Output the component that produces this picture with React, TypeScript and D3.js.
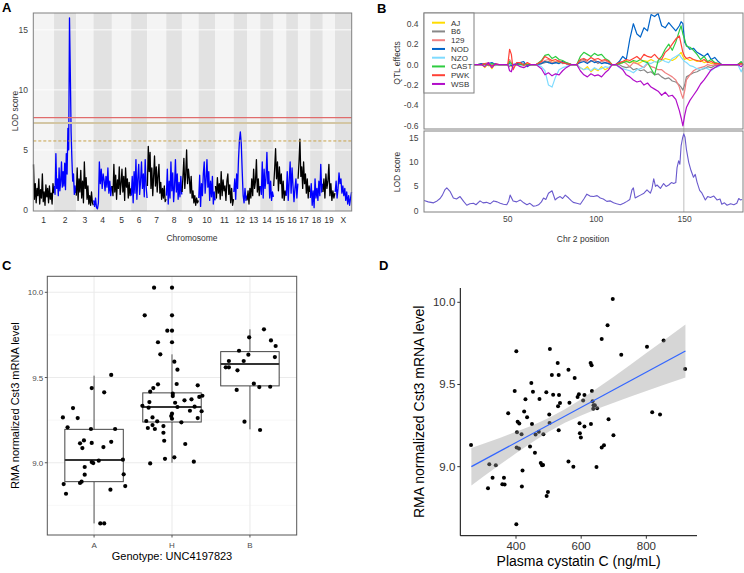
import React from 'react';
import * as d3 from 'd3';

const FONT = '"Liberation Sans", Arial, sans-serif';

// ---------- Panel A: genome scan ----------
const chrNames = ['1', '2', '3', '4', '5', '6', '7', '8', '9', '10', '11', '12', '13', '14', '15', '16', '17', '18', '19', 'X'];
const chrLen = [97, 103, 81, 86, 90, 75, 89, 73, 78, 78, 86, 62, 62, 62, 59, 55, 57, 59, 57, 78];
const lodTicksA = [0, 5, 10, 15];
const thresholds = [7.69, 7.25, 5.75];

const lodChr = [
  [3.8, 0.9, 2.2, 0.6, 1.8, 1.2, 2.6, 0.5, 1.7, 1.0, 3.0, 0.7, 1.5, 0.4, 2.1, 1.1, 1.8, 0.6, 2.0, 0.9, 1.4, 0.5, 2.2, 1.4],
  [2.0, 1.3, 4.7, 1.8, 2.6, 1.2, 3.5, 1.6, 2.4, 4.0, 1.9, 3.2, 2.0, 3.9, 1.7, 4.7, 3.0, 6.8, 5.0, 16.0, 11.5, 6.5, 4.2, 2.4, 3.0, 1.3, 2.0, 1.4],
  [1.2, 3.5, 0.8, 2.6, 1.5, 3.3, 1.0, 2.4, 0.6, 4.0, 1.8, 2.7, 0.9, 2.0, 0.5, 1.2, 0.4, 1.5, 0.6, 0.4],
  [0.8, 0.3, 1.0, 0.2, 0.1, 0.6, 4.0, 2.2, 3.4, 1.8, 3.0, 2.5, 1.6, 2.8, 1.9, 3.5, 1.4, 2.4, 1.2, 2.0],
  [2.0, 1.2, 3.8, 1.5, 2.9, 0.9, 2.5, 1.8, 3.6, 1.3, 2.2, 3.4, 1.5, 2.8, 0.8, 3.5, 1.9, 2.6, 1.0, 2.3, 1.2, 1.8],
  [1.2, 2.8, 0.6, 3.2, 1.4, 4.2, 0.9, 2.6, 3.8, 1.3, 2.4, 4.0, 1.8, 3.0, 1.1, 4.2, 2.0, 1.0],
  [2.0, 5.3, 3.2, 4.8, 1.8, 3.5, 1.2, 2.8, 4.5, 2.0, 3.6, 1.5, 2.9, 3.8, 1.4, 2.3, 0.9, 1.8, 1.0, 2.0, 0.7, 0.9],
  [1.2, 3.4, 0.5, 2.4, 1.0, 4.0, 1.6, 3.1, 0.7, 2.0, 4.2, 1.5, 3.0, 0.9, 2.3, 1.1, 2.8, 1.3],
  [1.5, 2.8, 4.3, 1.8, 3.0, 5.0, 2.2, 3.4, 2.6, 1.4, 2.8, 1.0, 1.6, 0.6, 1.2, 0.4, 1.0, 0.6, 0.8],
  [1.0, 2.9, 0.3, 2.2, 1.2, 3.0, 4.0, 1.4, 2.5, 4.2, 1.9, 3.2, 0.8, 2.4, 1.1, 2.8, 0.5, 1.5, 0.8],
  [2.0, 1.0, 2.7, 1.4, 2.2, 0.9, 3.2, 1.2, 2.5, 1.6, 2.0, 0.8, 2.4, 3.0, 1.3, 2.1, 0.6, 1.8, 0.4, 0.9],
  [1.5, 2.6, 0.9, 3.0, 1.8, 4.2, 5.8, 6.5, 5.5, 3.2, 1.2, 0.6, 1.8, 0.8, 1.2],
  [0.8, 1.6, 0.5, 1.8, 1.0, 2.6, 1.2, 3.4, 1.8, 2.4, 4.2, 1.5, 2.6, 1.2, 2.0],
  [2.0, 1.3, 4.0, 1.0, 3.4, 1.8, 2.6, 4.8, 2.2, 3.2, 1.0, 2.4, 0.8, 1.5, 1.1],
  [2.0, 3.4, 5.1, 2.6, 4.0, 1.6, 3.6, 2.2, 3.0, 1.0, 2.4, 0.8, 1.6, 1.2],
  [1.2, 3.2, 0.8, 2.4, 4.0, 1.4, 3.5, 2.0, 0.7, 1.8, 2.6, 1.0, 2.2],
  [2.6, 4.0, 5.9, 2.8, 3.6, 1.8, 4.0, 2.2, 3.0, 1.4, 2.6, 1.0, 2.0, 1.5],
  [1.0, 2.2, 0.4, 1.6, 0.2, 2.6, 1.0, 1.8, 0.8, 2.4, 1.2, 3.8, 1.5, 2.2],
  [1.5, 2.6, 1.0, 3.0, 1.8, 2.4, 3.8, 1.2, 2.2, 0.8, 1.6, 1.0, 1.4],
  [1.5, 2.4, 1.0, 1.8, 3.1, 2.2, 2.6, 1.4, 2.0, 1.2, 1.8, 0.8, 1.5, 0.5, 1.2, 0.4, 1.0, 1.5],
];

// ---------- Panel B: chr 2 effects + LOD ----------
const founders = ['AJ', 'B6', '129', 'NOD', 'NZO', 'CAST', 'PWK', 'WSB'];
const founderColors = ['#FFDC00', '#888888', '#F08080', '#0064C9', '#7FDBFF', '#2ECC40', '#FF4136', '#B10DC9'];
const effTicks = [0.4, 0.2, 0.0, -0.2, -0.4, -0.6];
const lodTicksB = [0, 5, 10, 15];
const posTicksB = [50, 100, 150];
const peakPos = 149.5;

const effPos = [30, 33, 35, 37, 39, 41, 43, 45, 48, 50, 51, 52, 53, 55, 57, 59, 61, 63, 66, 69,
  71, 73, 75, 77, 79, 81, 83, 86, 89, 91, 93, 95, 97, 99, 101, 103, 105, 107, 109, 111,
  113, 115, 117, 119, 121, 123, 125, 127, 129, 131, 133, 135, 137, 139, 141, 143, 145, 147, 148, 149,
  150, 151, 153, 155, 157, 159, 161, 163, 165, 167, 169, 171, 174, 177, 180, 182, 183];

const effAJ = [0, 0, 0.01, -0.03, 0.01, -0.04, 0.01, 0, 0, 0, 0.02, -0.02, 0, 0, 0.01, -0.01, 0.01, 0, 0, 0.02,
  0.03, 0.02, 0.04, 0.03, 0.02, 0.03, 0.01, 0, 0, -0.03, -0.05, -0.02, -0.07, -0.04, -0.06, -0.02, -0.05, -0.03, 0, 0,
  0.01, 0.02, 0.04, 0.02, 0.03, 0.01, 0.02, 0.04, 0.03, 0.05, 0.03, 0.02, 0.04, 0.06, 0.05, 0.04, 0.06, 0.1, 0.12, 0.08,
  0.05, 0.06, 0.04, 0.05, 0.03, 0.04, 0.02, 0.03, 0.01, 0.02, 0.01, 0, 0, 0, 0, 0.01, 0];
const effB6 = [0, 0, 0, 0.01, -0.01, 0, 0, 0, 0, 0, -0.02, 0.01, 0, 0, 0, 0.01, 0, 0, 0, 0.01,
  0.02, 0.03, 0.01, 0.02, 0.03, 0.01, 0.02, 0, 0, 0.04, 0.05, 0.02, 0.03, 0.04, 0.01, 0.03, 0.02, 0.01, 0, 0,
  0, -0.02, -0.03, -0.02, -0.05, -0.04, -0.06, -0.05, -0.08, -0.07, -0.1, -0.09, -0.12, -0.14, -0.13, -0.16, -0.17, -0.2, -0.22, -0.25,
  -0.2, -0.12, -0.1, -0.08, -0.07, -0.05, -0.04, -0.02, -0.03, -0.01, -0.01, 0, 0, 0, 0, 0.01, 0];
const eff129 = [0, 0, 0, 0.01, 0.02, -0.01, 0, 0, 0, 0, 0.05, 0.02, 0, 0, 0.01, 0, 0, 0, 0, 0.02,
  0.04, 0.05, 0.02, 0.03, 0.04, 0.02, 0.01, 0, 0, 0.03, 0.04, 0.02, 0.03, 0.05, 0.02, 0.03, 0.04, 0.02, 0, 0,
  0.02, 0.03, 0.01, -0.02, 0.02, 0.01, -0.01, -0.03, 0.01, -0.02, -0.03, -0.05, -0.05, -0.08, -0.1, -0.12, -0.15, -0.22, -0.28, -0.33,
  -0.26, -0.15, -0.1, -0.06, -0.04, -0.03, -0.02, 0, -0.01, 0, 0, 0, 0, 0, 0, 0.02, 0];
const effNOD = [0, 0, 0.01, 0, 0.01, 0.02, 0, 0, 0, 0, 0.01, -0.01, 0, 0.01, 0.02, 0.03, -0.02, 0, 0, 0.01,
  0.03, 0.02, 0.01, 0.02, 0.01, 0.03, 0.01, 0, 0, 0.02, 0.03, 0.01, 0.04, 0.02, 0.03, 0.01, 0.02, 0.01, 0, 0,
  0.03, 0.08, 0.05, 0.25, 0.4, 0.3, 0.27, 0.36, 0.33, 0.49, 0.47, 0.5, 0.38, 0.36, 0.41, 0.37, 0.33, 0.38, 0.42, 0.4,
  0.22, 0.19, 0.15, 0.16, 0.12, 0.1, 0.08, 0.11, 0.05, 0.07, 0.03, 0, 0, 0, 0, 0.02, 0];
const effNZO = [0, 0, 0, 0, 0.01, 0, -0.01, 0, 0, 0, 0, 0.01, 0, 0, 0, -0.01, 0, 0, 0, -0.02,
  -0.06, -0.2, -0.22, -0.12, -0.05, -0.03, -0.02, 0, 0, -0.03, -0.05, -0.04, -0.06, -0.03, -0.05, -0.04, -0.02, -0.03, 0, 0,
  -0.03, -0.04, -0.05, -0.06, -0.08, -0.05, -0.04, -0.02, 0.02, 0.01, 0.03, 0.02, 0.05, 0.03, 0.02, 0.06, 0.08, 0.1, 0.07, 0.05,
  0.03, 0.02, -0.01, -0.02, -0.04, -0.05, -0.03, -0.04, -0.06, -0.03, -0.02, 0, 0, 0, 0, -0.07, -0.03];
const effCAST = [0, 0, 0, 0, 0, 0.01, 0, 0, 0, 0, 0.03, 0.01, 0, 0, 0, 0, 0, 0, 0, 0.04,
  0.09, 0.1, 0.06, 0.08, 0.05, 0.04, 0.02, 0, 0, 0.08, 0.12, 0.1, 0.08, 0.11, 0.09, 0.1, 0.06, 0.04, 0, 0,
  0.01, 0.02, 0.03, 0.02, 0.04, 0.03, 0.05, 0.03, 0.02, -0.04, -0.1, 0.04, 0.08, 0.15, 0.2, 0.14, 0.22, 0.33, 0.38, 0.3,
  0.25, 0.18, 0.17, 0.14, 0.1, 0.05, 0.08, 0.03, 0.05, 0.02, 0.01, 0, 0, 0, 0, 0.03, 0];
const effPWK = [0, 0, 0, 0.01, 0, -0.01, 0, 0, 0, 0, 0.15, 0.1, -0.05, 0.02, 0.02, -0.01, 0.02, 0, 0, 0.03,
  0.08, 0.06, 0.04, 0.05, 0.03, 0.02, 0.01, 0, 0, 0.05, 0.06, 0.04, 0.07, 0.05, 0.06, 0.04, 0.05, 0.03, 0, 0,
  0.02, 0.03, 0.05, 0.04, 0.06, 0.08, 0.05, 0.1, 0.08, 0.07, 0.1, 0.06, 0.05, 0.12, 0.15, 0.2, 0.25, 0.28, 0.2, 0.12,
  0.08, 0.06, 0.07, 0.05, 0.04, 0.03, 0.05, 0.02, 0.03, 0.01, 0.01, 0, 0, 0, 0, 0.01, 0];
const effWSB = [0, 0, 0, -0.02, 0.02, -0.03, 0.01, 0, 0, 0, -0.06, -0.07, 0, 0, -0.02, -0.03, -0.01, 0, 0, -0.04,
  -0.1, -0.08, -0.11, -0.09, -0.1, -0.06, -0.03, 0, 0, -0.06, -0.1, -0.12, -0.09, -0.11, -0.1, -0.12, -0.08, -0.05, 0, 0,
  -0.02, -0.05, -0.1, -0.12, -0.15, -0.17, -0.16, -0.2, -0.18, -0.22, -0.24, -0.26, -0.3, -0.27, -0.31, -0.3, -0.34, -0.45, -0.52, -0.6,
  -0.5, -0.42, -0.35, -0.3, -0.25, -0.19, -0.15, -0.1, -0.05, -0.03, -0.01, 0, 0, 0, 0, -0.02, 0];
const effects = [effAJ, effB6, eff129, effNOD, effNZO, effCAST, effPWK, effWSB];

const chr2Pos = [2.6, 5, 8, 10, 11.7, 13, 14.5, 15.5, 17.3, 19.2, 21, 23, 25, 26.8, 28.5, 30.6, 32, 34.3, 36, 38,
  40, 42, 44, 45.7, 47.5, 49.4, 50.5, 51.3, 53, 55, 57, 59, 60.8, 62.5, 64.5, 66, 67.4, 69, 70.2, 71.5,
  73, 75, 76.8, 78, 79.6, 81, 82.5, 84.4, 86, 87, 89, 91, 93, 94.7, 96.5, 98.5, 100.5, 102.3, 104, 106,
  108, 109.8, 111.5, 113.6, 115.5, 117.4, 119, 120.2, 121, 122, 123.5, 125, 127, 128.7, 130.6, 131.5, 132.5, 133.5, 134.4, 136.3,
  138.1, 139.5, 141, 142.5, 143.8, 145, 145.7, 146.6, 147.3, 148, 148.8, 149.5, 150.2, 151, 152.3, 153.6, 155, 156, 157, 158.5,
  159.8, 161.7, 163, 164.6, 166.5, 168.3, 170, 171, 172.5, 174, 176, 177.8, 179.5, 180.6, 181.5, 182.5];
const chr2Lod = [2.1, 1.8, 1.6, 2.0, 2.5, 3.2, 4.35, 4.7, 4.0, 2.6, 2.4, 2.9, 1.9, 1.1, 1.4, 1.5, 1.2, 2.0, 1.6, 1.7,
  1.4, 2.0, 1.8, 1.5, 1.3, 1.2, 2.0, 3.2, 2.0, 1.8, 2.2, 1.6, 1.2, 1.5, 0.9, 1.0, 1.2, 1.8, 2.6, 2.3,
  3.6, 4.1, 2.2, 2.6, 2.9, 2.5, 3.2, 2.6, 2.0, 1.7, 1.5, 1.3, 2.4, 3.4, 3.0, 2.9, 3.1, 2.6, 2.4, 1.9,
  2.0, 1.6, 1.4, 1.2, 1.5, 1.9, 2.3, 4.3, 4.7, 2.6, 2.9, 3.2, 3.6, 4.3, 3.6, 4.5, 6.6, 5.0, 5.3, 4.6,
  5.6, 5.0, 5.3, 5.8, 5.6, 5.8, 8.9, 10.3, 9.6, 13.4, 15.0, 15.9, 15.2, 12.7, 10.0, 8.3, 6.9, 7.5, 5.9, 4.2,
  3.6, 2.2, 2.9, 2.7, 3.0, 2.2, 2.4, 1.3, 1.6, 1.1, 1.4, 1.2, 1.5, 2.5, 2.2, 2.3];

// ---------- Panel C: boxplot by genotype ----------
const genotypes = ['A', 'H', 'B'];
const boxLow = [8.644, 9.0, 9.196];
const boxQ1 = [8.889, 9.239, 9.451];
const boxMed = [9.016, 9.327, 9.58];
const boxQ3 = [9.196, 9.41, 9.652];
const boxHigh = [9.511, 9.636, 9.783];
const ticksC = [9.0, 9.5, 10.0];
const minorC = [8.75, 9.25, 9.75];

// [jitter (category units), expression]
const ptsA = [[-0.4, 9.266], [-0.34, 9.208], [-0.27, 9.321], [-0.21, 9.262], [-0.39, 8.875], [-0.36, 8.818], [-0.18, 9.114],
  [-0.15, 9.086], [-0.13, 9.131], [-0.12, 8.975], [-0.12, 8.93], [-0.18, 8.881], [-0.16, 8.889], [-0.04, 9.198], [-0.03, 9.116],
  [-0.03, 9.004], [-0.01, 8.998], [0.06, 9.012], [-0.03, 9.438], [0.13, 9.413], [0.12, 9.092], [0.22, 9.515], [0.22, 9.123],
  [0.21, 8.842], [0.27, 9.198], [0.37, 9.018], [0.38, 8.932], [0.4, 8.863], [0.08, 8.644], [0.13, 8.644]];
const ptsH = [[-0.23, 10.027], [0.0, 10.027], [-0.35, 9.865], [0.0, 9.865], [-0.06, 9.775], [0.0, 9.775], [-0.18, 9.707], [0.0, 9.707],
  [-0.15, 9.636], [0.03, 9.593], [0.07, 9.546], [-0.18, 9.46], [-0.24, 9.438], [-0.28, 9.417], [0.06, 9.462], [0.33, 9.454],
  [0.01, 9.405], [0.01, 9.391], [0.39, 9.393], [0.35, 9.386], [0.16, 9.366], [0.25, 9.372], [-0.29, 9.356], [0.04, 9.352],
  [-0.38, 9.334], [-0.3, 9.323], [0.07, 9.327], [0.29, 9.329], [0.23, 9.305], [0.38, 9.302], [0.0, 9.288], [-0.01, 9.274],
  [0.33, 9.262], [-0.25, 9.266], [0.0, 9.258], [-0.33, 9.245], [-0.19, 9.243], [0.12, 9.237], [-0.25, 9.221], [-0.11, 9.215],
  [-0.31, 9.204], [-0.22, 9.198], [-0.11, 9.176], [-0.1, 9.129], [0.17, 9.11], [-0.09, 9.023], [0.03, 9.032], [0.28, 9.006],
  [-0.28, 8.996]];
const ptsB = [[0.18, 9.783], [-0.01, 9.736], [0.27, 9.718], [0.33, 9.685], [-0.14, 9.657], [-0.02, 9.634], [0.32, 9.62],
  [-0.27, 9.597], [-0.08, 9.597], [-0.31, 9.56], [-0.27, 9.56], [-0.16, 9.542], [0.05, 9.464], [0.12, 9.444], [0.26, 9.446],
  [-0.17, 9.427], [-0.07, 9.241], [0.13, 9.192]];
const ptsC = [ptsA, ptsH, ptsB];

// ---------- Panel D: scatter vs plasma cystatin C ----------
const cystatin = [262, 318, 338, 314, 328, 363, 358, 365, 376, 401, 396, 403, 417, 405, 410, 402, 409, 420, 418, 401,
  425, 429, 434, 443, 447, 452, 449, 458, 460, 472, 470, 484, 476, 480, 483, 493, 502, 504, 510, 503,
  514, 498, 494, 528, 531, 532, 535, 529, 531, 561, 564, 561, 576, 580, 589, 593, 595, 596, 599, 610,
  610, 606, 629, 632, 633, 635, 638, 630, 642, 649, 637, 647, 663, 663, 670, 681, 684, 699, 697, 723,
  802, 818, 842, 853, 919];
const cst3 = [9.132, 9.014, 9.008, 8.868, 8.933, 8.933, 8.893, 8.891, 9.325, 9.702, 9.46, 9.209, 9.197, 9.274, 9.262, 9.116, 9.11, 8.976, 8.88, 8.649,
  9.335, 9.41, 9.3, 9.122, 9.509, 9.456, 9.26, 9.085, 9.195, 9.412, 9.213, 9.197, 9.023, 9.008, 9.01, 9.452, 9.318, 9.716, 9.558, 9.266,
  9.438, 8.846, 8.822, 9.631, 9.558, 9.436, 9.387, 9.367, 9.221, 9.59, 9.389, 9.032, 9.0, 9.539, 9.424, 9.44, 9.264, 9.203, 9.177, 9.436,
  9.244, 9.402, 9.631, 9.617, 9.461, 9.398, 9.373, 9.26, 9.373, 9.355, 9.353, 8.998, 9.777, 9.116, 9.13, 9.86, 9.288, 9.191, 10.02, 9.681,
  9.73, 9.331, 9.318, 9.768, 9.594];
const fitX = [263, 920];
const fitY = [9.0, 9.704];
const bandX = [263, 300, 350, 400, 450, 500, 550, 600, 650, 700, 750, 800, 850, 920];
const bandLo = [8.886, 8.94, 9.011, 9.081, 9.149, 9.212, 9.267, 9.312, 9.352, 9.389, 9.425, 9.461, 9.495, 9.543];
const bandHi = [9.114, 9.14, 9.175, 9.213, 9.251, 9.296, 9.349, 9.41, 9.478, 9.547, 9.619, 9.691, 9.763, 9.865];
const ticksDX = [400, 600, 800];
const ticksDY = [9.0, 9.5, 10.0];

function PanelA() {
  const total = d3.sum(chrLen);
  const offsets = chrLen.map((_, i) => d3.sum(chrLen.slice(0, i)));
  const x = d3.scaleLinear().domain([0, total]).range([33.3, 351.7]);
  const y = d3.scaleLinear().domain([-0.08, 16.4]).range([211, 13]);
  const line = d3.line<number[]>().x(d => x(d[0])).y(d => y(d[1]));
  const threshStyle = [
    { stroke: '#e06c6c', w: 1.3, dash: undefined },
    { stroke: '#d3c6a4', w: 2, dash: undefined },
    { stroke: '#c8a24a', w: 1, dash: '3,2' },
  ];
  return (
    <g>
      {chrLen.map((len, i) => (
        <rect key={i} x={x(offsets[i])} y={13} width={x(offsets[i] + len) - x(offsets[i])} height={198}
          fill={i % 2 ? '#e2e2e2' : '#f4f4f4'} />
      ))}
      {lodTicksA.slice(1).map(v => (
        <line key={v} x1={x(0)} x2={x(total)} y1={y(v)} y2={y(v)} stroke="#fdfdfd" strokeWidth={1} />
      ))}
      {lodChr.map((vals, i) => {
        const pts = vals.map((v, j) => [offsets[i] + chrLen[i] * (0.01 + 0.98 * j / (vals.length - 1)), v]);
        return <path key={i} d={line(pts) || ''} fill="none" stroke={i % 2 ? '#0000ff' : '#000'} strokeWidth={1.3} strokeLinejoin="round" />;
      })}
      {thresholds.map((t, i) => (
        <line key={t} x1={x(0)} x2={x(total)} y1={y(t)} y2={y(t)} stroke={threshStyle[i].stroke}
          strokeWidth={threshStyle[i].w} strokeDasharray={threshStyle[i].dash} />
      ))}
      <rect x={33.3} y={13} width={318.4} height={198} fill="none" stroke="#808080" strokeWidth={1} />
      {lodTicksA.map(v => (
        <text key={v} x={28} y={y(v) + 3} fontSize={8.5} fill="#444" textAnchor="end">{v}</text>
      ))}
      {chrNames.map((c, i) => (
        <text key={c} x={x(offsets[i] + chrLen[i] / 2)} y={223} fontSize={8.5} fill="#333" textAnchor="middle">{c}</text>
      ))}
      <text x={192} y={241} fontSize={8.5} fill="#333" textAnchor="middle">Chromosome</text>
      <text transform="translate(18,111) rotate(-90)" fontSize={8.5} fill="#333" textAnchor="middle">LOD score</text>
      <text x={2} y={12} fontSize={13} fontWeight="bold" fill="#000">A</text>
    </g>
  );
}

function PanelB() {
  const x = d3.scaleLinear().domain([2.6, 183]).range([424, 743]);
  const yE = d3.scaleLinear().domain([-0.64, 0.505]).range([130, 13]);
  const yL = d3.scaleLinear().domain([-0.3, 16.5]).range([212, 131]);
  const effLine = d3.line<number>().x((_, i) => x(effPos[i])).y(d => yE(d));
  const lodLine = d3.line<number>().x((_, i) => x(chr2Pos[i])).y(d => yL(d));
  return (
    <g>
      <defs>
        <clipPath id="clipTop"><rect x={424} y={13} width={320} height={116} /></clipPath>
        <clipPath id="clipBot"><rect x={424} y={131} width={320} height={81} /></clipPath>
      </defs>
      <line x1={x(peakPos)} x2={x(peakPos)} y1={13} y2={212} stroke="#d4d4d4" strokeWidth={1.5} />
      <g clipPath="url(#clipTop)">
        {effects.map((s, i) => (
          <path key={founders[i]} d={effLine(s) || ''} fill="none" stroke={founderColors[i]} strokeWidth={1.2} strokeLinejoin="round" />
        ))}
      </g>
      <g clipPath="url(#clipBot)">
        <path d={lodLine(chr2Lod) || ''} fill="none" stroke="#6a5acd" strokeWidth={1.1} strokeLinejoin="round" />
      </g>
      <rect x={424} y={13} width={319} height={116} fill="none" stroke="#808080" strokeWidth={1} />
      <rect x={424} y={131} width={319} height={81} fill="none" stroke="#808080" strokeWidth={1} />
      {/* legend */}
      <rect x={424} y={13} width={50} height={80} fill="#fff" stroke="#808080" strokeWidth={1} />
      {founders.map((f, i) => (
        <g key={f}>
          <line x1={432} x2={445} y1={22.7 + i * 8.75} y2={22.7 + i * 8.75} stroke={founderColors[i]} strokeWidth={2} />
          <text x={451} y={22.7 + i * 8.75 + 3} fontSize={8} fill="#333">{f}</text>
        </g>
      ))}
      {effTicks.map(v => (
        <text key={v} x={418.5} y={yE(v) + 3} fontSize={8.5} fill="#444" textAnchor="end">{v.toFixed(1)}</text>
      ))}
      {lodTicksB.map(v => (
        <text key={v} x={418.5} y={yL(v) + 3} fontSize={8.5} fill="#444" textAnchor="end">{v}</text>
      ))}
      {posTicksB.map(v => (
        <text key={v} x={x(v)} y={222.3} fontSize={8.5} fill="#444" textAnchor="middle">{v}</text>
      ))}
      <text x={583} y={241.5} fontSize={8.5} fill="#333" textAnchor="middle">Chr 2 position</text>
      <text transform="translate(400,63) rotate(-90)" fontSize={8.5} fill="#333" textAnchor="middle">QTL effects</text>
      <text transform="translate(400,172) rotate(-90)" fontSize={8.5} fill="#333" textAnchor="middle">LOD score</text>
      <text x={377} y={12.5} fontSize={13} fontWeight="bold" fill="#000">B</text>
    </g>
  );
}

function PanelC() {
  const left = 47.3, right = 296.7, top = 276.3, bottom = 535;
  const x = d3.scalePoint<string>().domain(genotypes).range([left, right]).padding(0.6);
  const step = x.step();
  const bw = step * 0.75;
  const y = d3.scaleLinear().domain([8.576, 10.094]).range([bottom, top]);
  return (
    <g>
      {minorC.map(v => (
        <line key={v} x1={left} x2={right} y1={y(v)} y2={y(v)} stroke="#f2f2f2" strokeWidth={0.6} />
      ))}
      {ticksC.map(v => (
        <line key={v} x1={left} x2={right} y1={y(v)} y2={y(v)} stroke="#ebebeb" strokeWidth={1.1} />
      ))}
      {genotypes.map(g => (
        <line key={g} x1={x(g)} x2={x(g)} y1={top} y2={bottom} stroke="#ebebeb" strokeWidth={1.1} />
      ))}
      {genotypes.map((g, i) => {
        const cx = x(g) as number;
        return (
          <g key={g}>
            <line x1={cx} x2={cx} y1={y(boxQ3[i])} y2={y(boxHigh[i])} stroke="#555" strokeWidth={1} />
            <line x1={cx} x2={cx} y1={y(boxQ1[i])} y2={y(boxLow[i])} stroke="#555" strokeWidth={1} />
            <rect x={cx - bw / 2} y={y(boxQ3[i])} width={bw} height={y(boxQ1[i]) - y(boxQ3[i])} fill="#fff" stroke="#444" strokeWidth={1} />
            <line x1={cx - bw / 2} x2={cx + bw / 2} y1={y(boxMed[i])} y2={y(boxMed[i])} stroke="#333" strokeWidth={2} />
          </g>
        );
      })}
      {genotypes.map((g, i) => ptsC[i].map((p, j) => (
        <circle key={g + j} cx={(x(g) as number) + p[0] * step} cy={y(p[1])} r={2.1} fill="#000" />
      )))}
      <rect x={left} y={top} width={right - left} height={bottom - top} fill="none" stroke="#555" strokeWidth={1} />
      {ticksC.map(v => (
        <g key={v}>
          <line x1={left - 2.5} x2={left} y1={y(v)} y2={y(v)} stroke="#555" />
          <text x={left - 4} y={y(v) + 3} fontSize={8} fill="#4d4d4d" textAnchor="end">{v.toFixed(1)}</text>
        </g>
      ))}
      {genotypes.map(g => (
        <g key={g}>
          <line x1={x(g)} x2={x(g)} y1={bottom} y2={bottom + 2.5} stroke="#555" />
          <text x={x(g)} y={548} fontSize={8} fill="#4d4d4d" textAnchor="middle">{g}</text>
        </g>
      ))}
      <text x={(left + right) / 2} y={560} fontSize={11} fill="#000" textAnchor="middle">Genotype: UNC4197823</text>
      <text transform={`translate(19,${(top + bottom) / 2}) rotate(-90)`} fontSize={11} fill="#000" textAnchor="middle">RMA normalized Cst3 mRNA level</text>
      <text x={2} y={270} fontSize={13} fontWeight="bold" fill="#000">C</text>
    </g>
  );
}

function PanelD() {
  const left = 460.3, right = 697, top = 288, bottom = 535.7;
  const x = d3.scaleLinear().domain([229, 955.5]).range([left, right]);
  const y = d3.scaleLinear().domain([8.58, 10.087]).range([bottom, top]);
  const band = d3.area<number>().x((_, i) => x(bandX[i])).y0(d => y(d)).y1((_, i) => y(bandHi[i]));
  const fit = d3.line<number>().x((_, i) => x(fitX[i])).y(d => y(d));
  return (
    <g>
      {cystatin.map((c, i) => (
        <circle key={i} cx={x(c)} cy={y(cst3[i])} r={2} fill="#000" />
      ))}
      <path d={band(bandLo) || ''} fill="#999" fillOpacity={0.4} />
      <path d={fit(fitY) || ''} fill="none" stroke="#3366FF" strokeWidth={1.3} />
      <line x1={left} x2={left} y1={top} y2={bottom} stroke="#000" strokeWidth={1} />
      <line x1={left} x2={right} y1={bottom} y2={bottom} stroke="#000" strokeWidth={1} />
      {ticksDY.map(v => (
        <g key={v}>
          <line x1={left - 3} x2={left} y1={y(v)} y2={y(v)} stroke="#333" />
          <text x={left - 5} y={y(v) + 4} fontSize={11.5} fill="#333" textAnchor="end">{v.toFixed(1)}</text>
        </g>
      ))}
      {ticksDX.map(v => (
        <g key={v}>
          <line x1={x(v)} x2={x(v)} y1={bottom} y2={bottom + 3} stroke="#333" />
          <text x={x(v)} y={550} fontSize={11.5} fill="#333" textAnchor="middle">{v}</text>
        </g>
      ))}
      <text x={(left + right) / 2} y={566} fontSize={14} fill="#000" textAnchor="middle">Plasma cystatin C (ng/mL)</text>
      <text transform={`translate(423.5,${(top + bottom) / 2}) rotate(-90)`} fontSize={14} fill="#000" textAnchor="middle">RMA normalized Cst3 mRNA level</text>
      <text x={379} y={270} fontSize={13} fontWeight="bold" fill="#000">D</text>
    </g>
  );
}

export default function App() {
  return (
    <svg width={744} height={573} fontFamily={FONT}
      style={{ position: 'absolute', left: 0, top: 0, background: '#fff', display: 'block' }}>
      <PanelA />
      <PanelB />
      <PanelC />
      <PanelD />
    </svg>
  );
}
